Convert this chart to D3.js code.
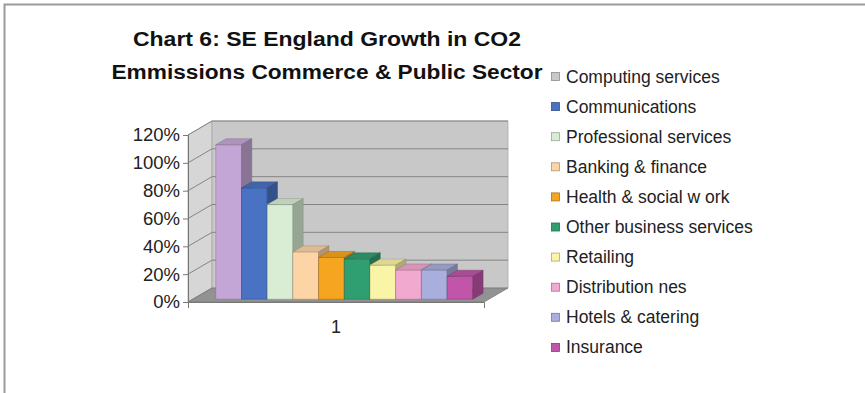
<!DOCTYPE html>
<html>
<head>
<meta charset="utf-8">
<script src="https://cdn.jsdelivr.net/npm/d3@7"></script>
<style>
  body { margin: 0; background: #fff; }
  svg { display: block; font-family: "Liberation Sans", Arial, sans-serif; }
</style>
</head>
<body>
<div id="chart"></div>
<script>
// Data
const categories = ["Computing services", "Communications", "Professional services", "Banking & finance",
    "Health & social w ork", "Other business services", "Retailing", "Distribution nes",
    "Hotels & catering", "Insurance"];
const values = [1.11, 0.80, 0.68, 0.34, 0.30, 0.29, 0.245, 0.21, 0.21, 0.165];
const barColors = ["#c4a6d6", "#4a72c2", "#d8edd3", "#fdd4a6", "#f6a520", "#2f9f72",
    "#faf4a6", "#f2a9d0", "#a9aedc", "#c055a9"];
const swatchColors = ["#c8c8c8", "#4a72c2", "#d8edd3", "#fdd4a6", "#f6a520", "#2f9f72",
    "#faf4a6", "#f2a9d0", "#a9aedc", "#c055a9"];
const yTicks = [0, 0.2, 0.4, 0.6, 0.8, 1.0, 1.2];
const groupLabels = ["1"];
const titleLines = ["Chart 6: SE England Growth in CO2", "Emmissions Commerce & Public Sector"];

const width = 865;
const height = 393;

const svg = d3.select("#chart")
    .append("svg")
    .attr("width", width)
    .attr("height", height);

// page frame
svg.append("path")
    .attr("d", `M4.5,${height} V4.5 H${width}`)
    .attr("fill", "none")
    .attr("stroke", "#9a9a9a")
    .attr("stroke-width", 2);

// title (the original is set wide, so stretch to its measured widths)
const titleWidths = [388, 431];
svg.append("g")
    .selectAll("text")
    .data(titleLines)
    .enter()
    .append("text")
    .attr("x", 327)
    .attr("y", (d, i) => 46 + i * 33)
    .attr("text-anchor", "middle")
    .attr("textLength", (d, i) => titleWidths[i])
    .attr("lengthAdjust", "spacingAndGlyphs")
    .style("font-size", "20px")
    .style("font-weight", "bold")
    .style("fill", "#111")
    .text(d => d);

// 3D geometry (oblique projection)
const dx = 24, dy = -14;
const x0 = 188, x1 = 484;
const y = d3.scaleLinear().domain([0, 1.2]).range([302, 135]);
const P = (xv, yv, z) => [xv + z * dx, yv + z * dy];
const line = d3.line();

const walls = svg.append("g");

// side wall
walls.append("path")
    .attr("d", line([P(x0, y(0), 0), P(x0, y(1.2), 0), P(x0, y(1.2), 1), P(x0, y(0), 1)]) + "Z")
    .attr("fill", "#d6d6d6")
    .attr("stroke", "#a8a8a8")
    .attr("stroke-width", 0.8);

// back wall
walls.append("path")
    .attr("d", line([P(x0, y(1.2), 1), P(x1, y(1.2), 1), P(x1, y(0), 1), P(x0, y(0), 1)]) + "Z")
    .attr("fill", "#c8c8c8")
    .attr("stroke", "#a8a8a8")
    .attr("stroke-width", 0.8);

// floor
walls.append("path")
    .attr("d", line([P(x0, y(0), 0), P(x1, y(0), 0), P(x1, y(0), 1), P(x0, y(0), 1)]) + "Z")
    .attr("fill", "#929292")
    .attr("stroke", "#7a7a7a")
    .attr("stroke-width", 0.8);

// gridlines on back wall and side wall
const grid = walls.append("g")
    .attr("fill", "none")
    .attr("stroke", "#858585")
    .attr("stroke-width", 1);
yTicks.filter(t => t > 0).forEach(t => {
    grid.append("path").attr("d", line([P(x0, y(t), 1), P(x1, y(t), 1)]));
});
yTicks.forEach(t => {
    grid.append("path").attr("d", line([P(x0, y(t), 0), P(x0, y(t), 1)]));
});

// bars
const x = d3.scaleBand().domain(categories).range([211, 468]).paddingInner(0);
const z0 = 0.2, z1 = 0.63;

const bars = svg.append("g")
    .selectAll("g")
    .data(categories.map((c, i) => ({ c, v: values[i], color: barColors[i] })))
    .enter()
    .append("g");

bars.each(function (d) {
    const g = d3.select(this);
    const xl = x(d.c), xr = x(d.c) + x.bandwidth();
    const edge = d3.color(d.color).darker(1.6);
    g.append("path")
        .attr("d", line([P(xl, y(0), z0), P(xl, y(d.v), z0), P(xr, y(d.v), z0), P(xr, y(0), z0)]) + "Z")
        .attr("fill", d.color)
        .attr("stroke", edge).attr("stroke-width", 0.6).attr("stroke-opacity", 0.6);
    g.append("path")
        .attr("d", line([P(xl, y(d.v), z0), P(xr, y(d.v), z0), P(xr, y(d.v), z1), P(xl, y(d.v), z1)]) + "Z")
        .attr("fill", d3.color(d.color).darker(0.35))
        .attr("stroke", edge).attr("stroke-width", 0.6).attr("stroke-opacity", 0.6);
    g.append("path")
        .attr("d", line([P(xr, y(0), z0), P(xr, y(d.v), z0), P(xr, y(d.v), z1), P(xr, y(0), z1)]) + "Z")
        .attr("fill", d3.color(d.color).darker(1))
        .attr("stroke", edge).attr("stroke-width", 0.6).attr("stroke-opacity", 0.6);
});

// value axis
const yAxis = svg.append("g")
    .attr("transform", `translate(${x0},0)`)
    .call(d3.axisLeft(y).tickValues(yTicks).tickFormat(d3.format(".0%")).tickSize(5).tickPadding(3));
yAxis.select(".domain").attr("stroke", "#777");
yAxis.selectAll(".tick line").attr("stroke", "#777");
yAxis.selectAll("text")
    .style("font-size", "18.5px")
    .style("fill", "#222")
    .attr("font-family", null);

// category axis
const xc = d3.scaleBand().domain(groupLabels).range([x0, x1]);
const xAxis = svg.append("g")
    .attr("transform", `translate(0,${y(0)})`)
    .call(d3.axisBottom(xc).tickSizeInner(0).tickSizeOuter(6).tickPadding(18));
xAxis.select(".domain").attr("stroke", "#777");
xAxis.selectAll("text")
    .style("font-size", "18px")
    .style("fill", "#222")
    .attr("font-family", null);

// legend
const legend = svg.append("g")
    .selectAll("g")
    .data(categories)
    .enter()
    .append("g")
    .attr("transform", (d, i) => `translate(551,${76.5 + i * 30.1})`);

legend.append("rect")
    .attr("x", 0.5)
    .attr("y", -4)
    .attr("width", 8)
    .attr("height", 8)
    .attr("fill", (d, i) => swatchColors[i])
    .attr("stroke", (d, i) => d3.color(swatchColors[i]).darker(1))
    .attr("stroke-width", 0.8);

legend.append("text")
    .attr("x", 15)
    .attr("y", 6)
    .style("font-size", "17.5px")
    .style("fill", "#222")
    .text(d => d);
</script>
</body>
</html>
